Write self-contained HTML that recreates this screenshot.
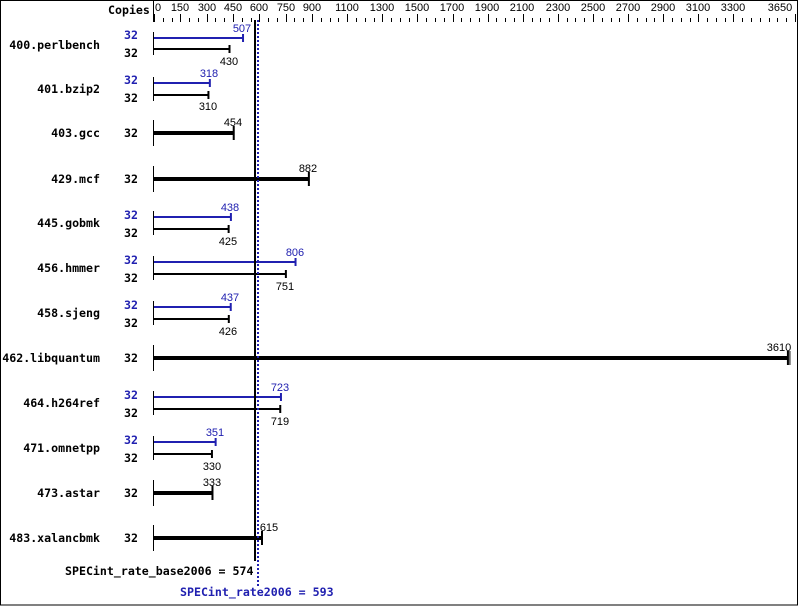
<!DOCTYPE html>
<html><head><meta charset="utf-8"><style>
html,body{margin:0;padding:0;background:#fff}
svg{display:block}
.b{font-family:"DejaVu Sans Mono","Liberation Mono",monospace;font-weight:bold;font-size:11.6px}
.n{font-family:"Liberation Sans",sans-serif;font-size:11px}
</style></head><body>
<svg id="s" width="799" height="606" xmlns="http://www.w3.org/2000/svg">
<rect x="0.5" y="0.5" width="797" height="604.5" fill="#fff" stroke="#000"/>
<line x1="153.5" y1="0" x2="153.5" y2="22" stroke="#000"/>
<g id="ticks" stroke="#000"></g>
<text class="b" x="108" y="14">Copies</text>
<g class="n" text-anchor="middle">
<text x="158" y="11">0</text><text x="180" y="11">150</text><text x="207" y="11">300</text><text x="233" y="11">450</text><text x="259" y="11">600</text><text x="286" y="11">750</text><text x="312" y="11">900</text><text x="347" y="11">1100</text><text x="382" y="11">1300</text><text x="417" y="11">1500</text><text x="452" y="11">1700</text><text x="487" y="11">1900</text><text x="522" y="11">2100</text><text x="558" y="11">2300</text><text x="593" y="11">2500</text><text x="628" y="11">2700</text><text x="663" y="11">2900</text><text x="698" y="11">3100</text><text x="733" y="11">3300</text><text x="780" y="11">3650</text>
</g>
<g class="b" text-anchor="end">
<text x="100" y="49">400.perlbench</text>
<text x="100" y="93">401.bzip2</text>
<text x="100" y="137">403.gcc</text>
<text x="100" y="183">429.mcf</text>
<text x="100" y="227">445.gobmk</text>
<text x="100" y="272">456.hmmer</text>
<text x="100" y="317">458.sjeng</text>
<text x="100" y="362">462.libquantum</text>
<text x="100" y="407">464.h264ref</text>
<text x="100" y="452">471.omnetpp</text>
<text x="100" y="497">473.astar</text>
<text x="100" y="542">483.xalancbmk</text>
</g>
<g class="b">
<text x="124" y="39" fill="#2020b0">32</text><text x="124" y="57">32</text>
<text x="124" y="84" fill="#2020b0">32</text><text x="124" y="102">32</text>
<text x="124" y="137">32</text>
<text x="124" y="183">32</text>
<text x="124" y="219" fill="#2020b0">32</text><text x="124" y="237">32</text>
<text x="124" y="264" fill="#2020b0">32</text><text x="124" y="282">32</text>
<text x="124" y="309" fill="#2020b0">32</text><text x="124" y="327">32</text>
<text x="124" y="362">32</text>
<text x="124" y="399" fill="#2020b0">32</text><text x="124" y="417">32</text>
<text x="124" y="444" fill="#2020b0">32</text><text x="124" y="462">32</text>
<text x="124" y="497">32</text>
<text x="124" y="542">32</text>
</g>
<g id="bars"></g>
<g class="n" text-anchor="middle">
<text x="242" y="32" fill="#2020b0">507</text><text x="229" y="65">430</text>
<text x="209" y="77" fill="#2020b0">318</text><text x="208" y="110">310</text>
<text x="233" y="126">454</text>
<text x="308" y="172">882</text>
<text x="230" y="211" fill="#2020b0">438</text><text x="228" y="245">425</text>
<text x="295" y="256" fill="#2020b0">806</text><text x="285" y="290">751</text>
<text x="230" y="301" fill="#2020b0">437</text><text x="228" y="335">426</text>
<text x="779" y="351">3610</text>
<text x="280" y="391" fill="#2020b0">723</text><text x="280" y="425">719</text>
<text x="215" y="436" fill="#2020b0">351</text><text x="212" y="470">330</text>
<text x="212" y="486">333</text>
<text x="269" y="531">615</text>
</g>
<line x1="255" y1="20" x2="255" y2="561" stroke="#000" stroke-width="2"/>
<line x1="258" y1="20" x2="258" y2="586" stroke="#2020b0" stroke-width="2" stroke-dasharray="2,2"/>
<text class="b" x="65" y="575">SPECint_rate_base2006 = 574</text>
<text class="b" x="180" y="596" fill="#2020b0">SPECint_rate2006 = 593</text>
</svg>
<script>
var NS="http://www.w3.org/2000/svg";
function L(g,x1,y1,x2,y2,c,w){var l=document.createElementNS(NS,"line");l.setAttribute("x1",x1);l.setAttribute("y1",y1);l.setAttribute("x2",x2);l.setAttribute("y2",y2);l.setAttribute("stroke",c||"#000");l.setAttribute("stroke-width",w||1);g.appendChild(l);}
function X(v){return 154+0.1756*v;}
var t=document.getElementById("ticks");
var big=[0,150,300,450,600,750,900,1100,1300,1500,1700,1900,2100,2300,2500,2700,2900,3100,3300,3650];
for(var v=0;v<=3650;v+=50){var x=Math.round(X(v))+0.5;var tall=big.indexOf(v)>=0;L(t,x,tall?14:18,x,22);}
var b=document.getElementById("bars");var B="#2020b0";
function dual(y1,v1,y2,v2){L(b,153.5,y1-6,153.5,y2+6);L(b,154,y1,X(v1),y1,B,2);L(b,X(v1),y1-4,X(v1),y1+4,B,2);L(b,154,y2,X(v2),y2,"#000",2);L(b,X(v2),y2-4,X(v2),y2+4,"#000",2);}
function single(y,v){L(b,153.5,y-13,153.5,y+13);L(b,154,y,X(v),y,"#000",4);L(b,X(v),y-7,X(v),y+7,"#000",2);}
dual(38,507,49,430);dual(83,318,95,310);single(133,454);single(179,882);
dual(217,438,229,425);dual(262,806,274,751);dual(307,437,319,426);
single(358,3610);L(b,X(3610)+2,351,X(3610)+2,365,"#000",1);
dual(397,723,409,719);dual(442,351,454,330);single(493,333);single(538,615);
</script>
</body></html>
